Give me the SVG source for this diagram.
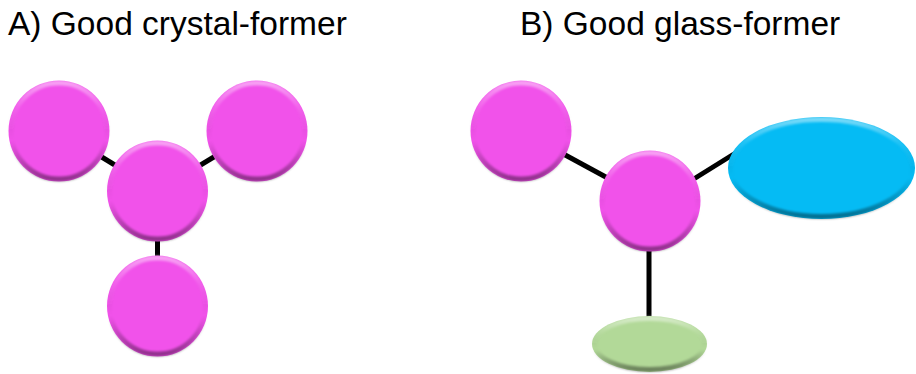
<svg xmlns="http://www.w3.org/2000/svg" width="916" height="374" viewBox="0 0 916 374">
<defs>
<linearGradient id="bevel" x1="0" y1="0" x2="0" y2="1">
<stop offset="0" stop-color="#ffffff" stop-opacity="0.45"/>
<stop offset="0.25" stop-color="#ffffff" stop-opacity="0.1"/>
<stop offset="0.6" stop-color="#000000" stop-opacity="0"/>
<stop offset="1" stop-color="#000000" stop-opacity="0.4"/>
</linearGradient>
<filter id="soft" x="-10%" y="-10%" width="120%" height="120%">
<feGaussianBlur stdDeviation="1.2"/>
</filter>
</defs>
<style>
.title{font-family:"Liberation Sans",Arial,sans-serif;font-size:33.5px;fill:#000}
.pink{fill:#F152EA}
.blue{fill:#05BBF4}
.green{fill:#B2D998}
.bev{fill:none;stroke:url(#bevel);stroke-width:5;filter:url(#soft)}
.link{stroke:#000;stroke-width:5;fill:none}
</style>
<rect width="916" height="374" fill="#fff"/>
<text class="title" x="8" y="35">A) Good crystal-former</text>
<text class="title" x="520" y="35">B) Good glass-former</text>
<g id="connectors">
<line class="link" x1="157.5" y1="191" x2="59" y2="131"/>
<line class="link" x1="157.5" y1="191" x2="257" y2="131"/>
<line class="link" x1="157.5" y1="191" x2="157.5" y2="306"/>
<line class="link" x1="650" y1="201" x2="521" y2="131"/>
<line class="link" x1="660" y1="200" x2="750" y2="144"/>
<line class="link" x1="649" y1="201" x2="649" y2="330"/>
</g>
<g id="a-left"><circle class="pink" cx="59" cy="131" r="50.5"/><circle class="bev" cx="59" cy="131" r="48"/></g>
<g id="a-right"><circle class="pink" cx="257" cy="131" r="50.5"/><circle class="bev" cx="257" cy="131" r="48"/></g>
<g id="a-center"><circle class="pink" cx="157.5" cy="191" r="50.5"/><circle class="bev" cx="157.5" cy="191" r="48"/></g>
<g id="a-bottom"><circle class="pink" cx="157.5" cy="306" r="50.5"/><circle class="bev" cx="157.5" cy="306" r="48"/></g>
<g id="b-left"><circle class="pink" cx="521" cy="131" r="50.5"/><circle class="bev" cx="521" cy="131" r="48"/></g>
<g id="b-center"><circle class="pink" cx="650" cy="201" r="50.5"/><circle class="bev" cx="650" cy="201" r="48"/></g>
<g id="b-blue"><ellipse class="blue" cx="821.5" cy="168" rx="93.5" ry="51"/><ellipse class="bev" cx="821.5" cy="168" rx="91" ry="48.5"/></g>
<g id="b-green"><ellipse class="green" cx="649.5" cy="344" rx="57.5" ry="28"/><ellipse class="bev" cx="649.5" cy="344" rx="55" ry="25.5"/></g>
</svg>
